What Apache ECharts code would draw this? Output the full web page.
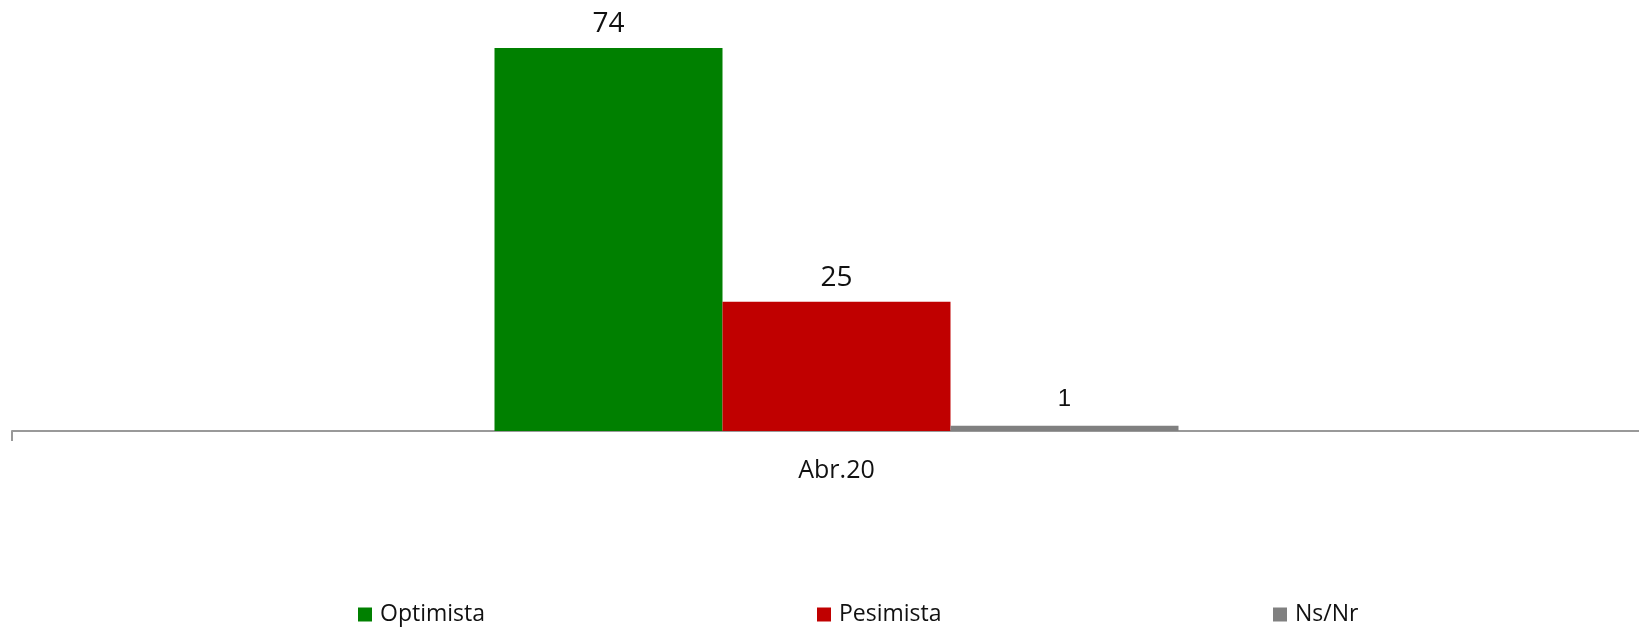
<!DOCTYPE html>
<html>
<head>
<meta charset="utf-8">
<script src="https://cdn.jsdelivr.net/npm/echarts@6/dist/echarts.min.js"></script>
<style>
html,body{margin:0;padding:0;background:#fff;}
#chart{width:1639px;height:630px;}
</style>
</head>
<body>
<div id="chart"></div>
<script>
const categories = ['Abr.20'];
const seriesNames = ['Optimista', 'Pesimista', 'Ns/Nr'];
const optimista = [74];
const pesimista = [25];
const nsnr = [1];
const colors = ['#008000', '#C00000', '#808080'];

const chart = echarts.init(document.getElementById('chart'));

function labelFor(size, family, dist) {
  return {
    show: true, position: 'top', distance: dist,
    fontFamily: family, fontSize: size, color: '#111'
  };
}

const legendLefts = [358, 817, 1273];

const option = {
  animation: false,
  backgroundColor: '#ffffff',
  grid: { left: 12, right: -22, top: 17, bottom: 199, containLabel: false, outerBoundsMode: 'none' },
  legend: seriesNames.map((n, i) => ({
    data: [n],
    left: legendLefts[i],
    top: 603,
    padding: 0,
    icon: 'rect',
    itemWidth: 14,
    itemHeight: 14,
    selectedMode: false,
    textStyle: { fontFamily: 'Open Sans', fontSize: 23, color: '#111', padding: [0, 0, 0, 3] }
  })),
  xAxis: {
    type: 'category',
    data: categories,
    axisLine: { show: true, lineStyle: { color: '#999999', width: 2 } },
    axisTick: { show: true, length: 10, lineStyle: { color: '#999999', width: 2 } },
    axisLabel: { margin: 27, fontFamily: 'Open Sans', fontSize: 25, color: '#111' }
  },
  yAxis: {
    type: 'value', min: 0, max: 80, show: false,
    splitLine: { show: false }
  },
  series: [
    { name: seriesNames[0], type: 'bar', data: optimista, barWidth: 228, barGap: '0%',
      itemStyle: { color: colors[0] }, label: labelFor(28, 'Open Sans', 10) },
    { name: seriesNames[1], type: 'bar', data: pesimista, barWidth: 228, barGap: '0%',
      itemStyle: { color: colors[1] }, label: labelFor(28, 'Open Sans', 10) },
    { name: seriesNames[2], type: 'bar', data: nsnr, barWidth: 228, barGap: '0%',
      itemStyle: { color: colors[2] }, label: labelFor(24, 'Liberation Sans', 14) }
  ]
};
chart.setOption(option);
</script>
</body>
</html>
